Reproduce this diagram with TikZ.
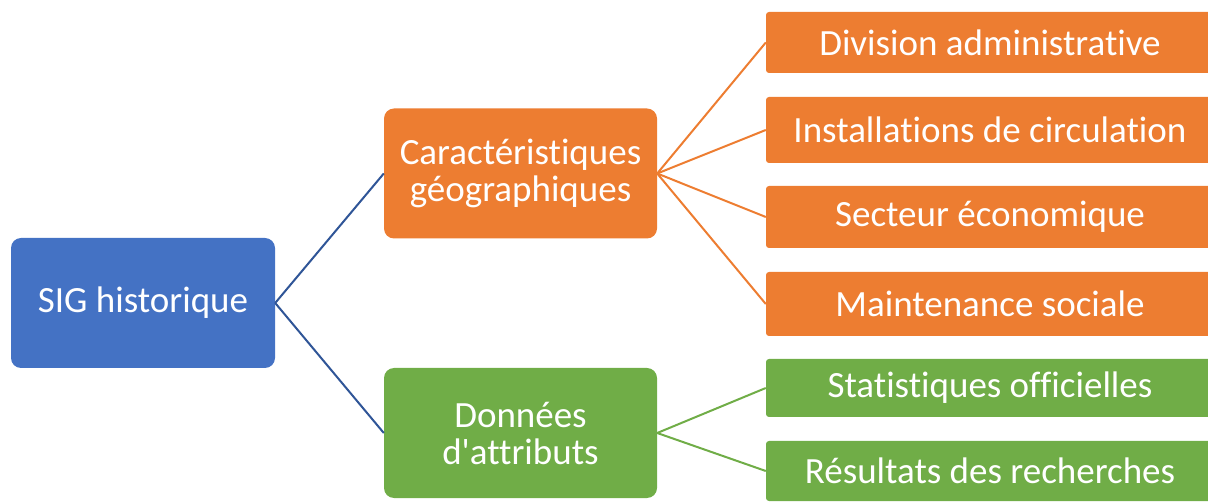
\documentclass[tikz,border=0pt]{standalone}
\usepackage{fontspec}
\setmainfont{Carlito}[Ligatures=NoCommon]
\definecolor{sigblue}{HTML}{4472C4}
\definecolor{sigorange}{HTML}{ED7D31}
\definecolor{siggreen}{HTML}{70AD47}
\definecolor{sigline}{HTML}{2F5597}

\begin{document}
\begin{tikzpicture}[x=1pt, y=-1pt,
  every node/.style={text=white, font=\fontsize{37}{37}\selectfont, align=center, inner sep=0pt},
  rootbox/.style={fill=sigblue, rounded corners=10pt, minimum width=264pt, minimum height=130pt},
  midbox/.style={rounded corners=10pt, minimum width=273pt, minimum height=130pt},
  leafbox/.style={rounded corners=3pt, minimum width=448pt},
  link/.style={line width=2pt}]
  \clip (0,0) rectangle (1208,502);

  % Root
  \node[rootbox] (sig) at (143,303) {SIG historique};

  % Second level
  \node[midbox, fill=sigorange] (geo) at (520.5,173.5) {Caractéristiques\\géographiques};
  \node[midbox, fill=siggreen] (att) at (520.5,433) {Données\\d\textquotesingle attributs};

  % Leaves: geographic features
  \node[leafbox, fill=sigorange, minimum height=61pt] (g1) at (990,42.5) {Division administrative};
  \node[leafbox, fill=sigorange, minimum height=66pt] (g2) at (990,130) {Installations de circulation};
  \node[leafbox, fill=sigorange, minimum height=62pt] (g3) at (990,217) {Secteur économique};
  \node[leafbox, fill=sigorange, minimum height=64pt] (g4) at (990,304) {Maintenance sociale};

  % Leaves: attribute data
  \node[leafbox, fill=siggreen, minimum height=58pt] (a1) at (990,388) {Statistiques officielles};
  \node[leafbox, fill=siggreen, minimum height=60pt] (a2) at (990,471) {Résultats des recherches};

  % Connectors
  \draw[link, sigline] (sig.east) -- (geo.west);
  \draw[link, sigline] (sig.east) -- (att.west);
  \foreach \i in {1,2,3,4}{
    \draw[link, sigorange] (geo.east) -- (g\i.west);
  }
  \foreach \i in {1,2}{
    \draw[link, siggreen] (att.east) -- (a\i.west);
  }
\end{tikzpicture}
\end{document}
